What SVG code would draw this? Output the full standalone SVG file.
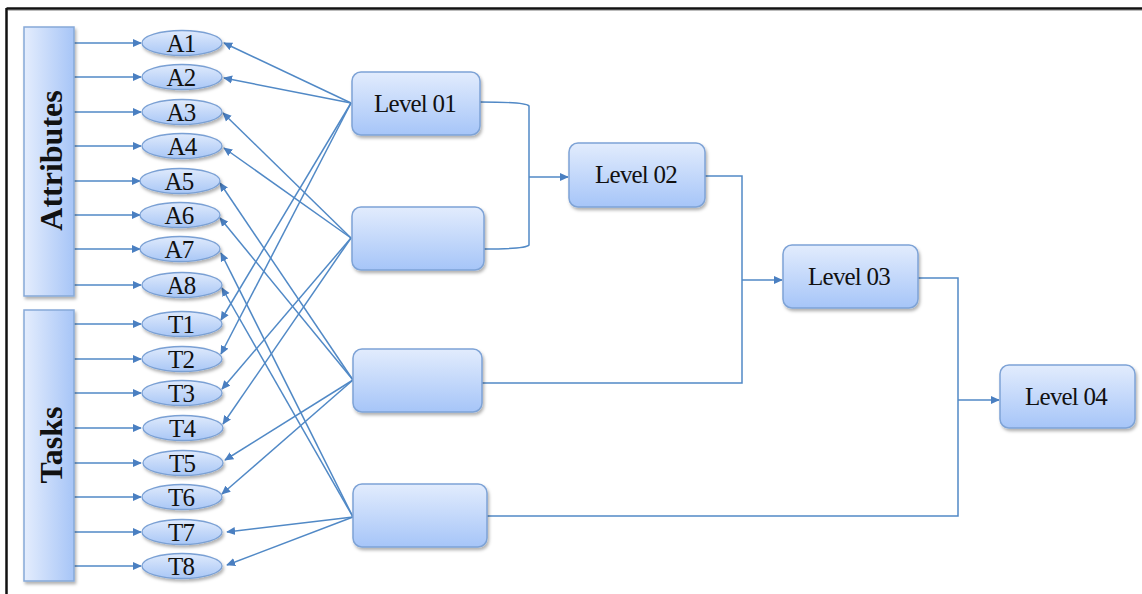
<svg xmlns="http://www.w3.org/2000/svg" width="1142" height="594" viewBox="0 0 1142 594">
  <defs>
    <linearGradient id="boxGrad" x1="0" y1="0" x2="0" y2="1">
      <stop offset="0" stop-color="#e2ecfd"/>
      <stop offset="1" stop-color="#a6c5f8"/>
    </linearGradient>
    <linearGradient id="ellGrad" x1="0" y1="0" x2="0" y2="1">
      <stop offset="0" stop-color="#dfeafc"/>
      <stop offset="1" stop-color="#a9c7f6"/>
    </linearGradient>
    <linearGradient id="barGrad" x1="0" y1="0" x2="1" y2="0">
      <stop offset="0" stop-color="#e4edfd"/>
      <stop offset="1" stop-color="#a7c5f7"/>
    </linearGradient>
    <filter id="shadow" x="-10%" y="-10%" width="125%" height="135%">
      <feDropShadow dx="1.5" dy="2.5" stdDeviation="1.6" flood-color="#000" flood-opacity="0.3"/>
    </filter>
    <marker id="arrow" viewBox="0 0 10 10" refX="9" refY="5" markerWidth="9" markerHeight="9" markerUnits="userSpaceOnUse" orient="auto">
      <path d="M0,0.5 L10,5 L0,9.5 Z" fill="#4a7fc1"/>
    </marker>
  </defs>
  <style>
    .bar { fill: url(#barGrad); stroke: #86a9d8; stroke-width: 1.5; filter: url(#shadow); }
    .box { fill: url(#boxGrad); stroke: #7ea3d6; stroke-width: 1.5; filter: url(#shadow); }
    .ell { fill: url(#ellGrad); stroke: #7aa0d4; stroke-width: 1.3; filter: url(#shadow); }
    .lbl { font-family: "Liberation Serif", "Times New Roman", serif; font-size: 25px; letter-spacing: -0.8px; fill: #111; text-anchor: middle; }
    .ttl { font-family: "Liberation Serif", "Times New Roman", serif; font-size: 32px; font-weight: bold; fill: #111; text-anchor: middle; }
    .conn { fill: none; stroke: #5189c6; stroke-width: 1.5; }
    .arr { marker-end: url(#arrow); }
  </style>

  <rect width="1142" height="594" fill="#fff"/>

  <!-- frame -->
  <line x1="6.5" y1="8.5" x2="1142" y2="8.5" stroke="#111" stroke-width="2.5"/>
  <line x1="6.5" y1="8" x2="6.5" y2="594" stroke="#111" stroke-width="2.5"/>
  <line x1="8" y1="10.5" x2="1142" y2="10.5" stroke="#bbb" stroke-width="1"/>

  <!-- connectors -->
  <g id="connectors" class="conn">
    <!-- category bars to items -->
    <g class="arr">
      <line x1="74" y1="43" x2="141" y2="43"/>
      <line x1="74" y1="77" x2="141" y2="77"/>
      <line x1="74" y1="112" x2="141" y2="112"/>
      <line x1="74" y1="146" x2="141" y2="146"/>
      <line x1="74" y1="181" x2="140" y2="181"/>
      <line x1="74" y1="215" x2="140" y2="215"/>
      <line x1="73" y1="249" x2="140" y2="249"/>
      <line x1="74" y1="285" x2="141" y2="285"/>
      <line x1="74" y1="324" x2="141" y2="324"/>
      <line x1="74" y1="359" x2="141" y2="359"/>
      <line x1="74" y1="393" x2="141" y2="393"/>
      <line x1="74" y1="428" x2="141" y2="428"/>
      <line x1="74" y1="463" x2="141" y2="463"/>
      <line x1="74" y1="497" x2="141" y2="497"/>
      <line x1="74" y1="532" x2="141" y2="532"/>
      <line x1="74" y1="566" x2="141" y2="566"/>
    </g>
    <!-- Level 01 to items -->
    <g class="arr">
      <line x1="351" y1="103" x2="224" y2="43"/>
      <line x1="351" y1="103" x2="224" y2="78"/>
      <line x1="351" y1="103" x2="221" y2="320"/>
      <line x1="351" y1="103" x2="221" y2="354"/>
    </g>
    <!-- second box to items -->
    <g class="arr">
      <line x1="351" y1="238" x2="223" y2="113"/>
      <line x1="351" y1="238" x2="224" y2="148"/>
      <line x1="351" y1="238" x2="222" y2="389"/>
      <line x1="351" y1="238" x2="223" y2="424"/>
    </g>
    <!-- third box to items -->
    <g class="arr">
      <line x1="353" y1="380" x2="220" y2="183"/>
      <line x1="353" y1="380" x2="220" y2="218"/>
      <line x1="353" y1="380" x2="225" y2="460"/>
      <line x1="353" y1="380" x2="222" y2="494"/>
    </g>
    <!-- fourth box to items -->
    <g class="arr">
      <line x1="353" y1="517" x2="221" y2="253"/>
      <line x1="353" y1="517" x2="222" y2="288"/>
      <line x1="353" y1="517" x2="227" y2="532"/>
      <line x1="353" y1="517" x2="227" y2="565"/>
    </g>
    <!-- level merges -->
    <path d="M480,102 Q526,102 529,106 L529,245 Q526,249 484,249"/>
    <line class="arr" x1="529" y1="177" x2="568" y2="177"/>
    <path d="M705,176 L742,176 L742,383 L482,383"/>
    <line class="arr" x1="742" y1="280" x2="782" y2="280"/>
    <path d="M918,278 L958,278 L958,516 L487,516"/>
    <line class="arr" x1="958" y1="400" x2="999" y2="400"/>
  </g>

  <!-- category bars -->
  <g id="attributes">
    <rect class="bar" x="24" y="27" width="50" height="269"/>
    <text class="ttl" transform="translate(62,160.5) rotate(-90)">Attributes</text>
  </g>
  <g id="tasks">
    <rect class="bar" x="24" y="310" width="50" height="271"/>
    <text class="ttl" transform="translate(62,445) rotate(-90)">Tasks</text>
  </g>

  <!-- attribute items -->
  <g id="A1"><ellipse class="ell" cx="182" cy="43" rx="40" ry="12.5"/><text class="lbl" x="181" y="52">A1</text></g>
  <g id="A2"><ellipse class="ell" cx="182" cy="77" rx="40" ry="12.5"/><text class="lbl" x="181" y="86">A2</text></g>
  <g id="A3"><ellipse class="ell" cx="182" cy="112" rx="40" ry="12.5"/><text class="lbl" x="181" y="121">A3</text></g>
  <g id="A4"><ellipse class="ell" cx="182" cy="146" rx="40" ry="12.5"/><text class="lbl" x="182" y="155">A4</text></g>
  <g id="A5"><ellipse class="ell" cx="180" cy="181" rx="40" ry="12.5"/><text class="lbl" x="179" y="190">A5</text></g>
  <g id="A6"><ellipse class="ell" cx="180" cy="215" rx="40" ry="12.5"/><text class="lbl" x="179" y="224">A6</text></g>
  <g id="A7"><ellipse class="ell" cx="180" cy="249" rx="40" ry="12.5"/><text class="lbl" x="179" y="258">A7</text></g>
  <g id="A8"><ellipse class="ell" cx="182" cy="285" rx="40" ry="12.5"/><text class="lbl" x="181" y="294">A8</text></g>

  <!-- task items -->
  <g id="T1"><ellipse class="ell" cx="182" cy="324" rx="40" ry="12.5"/><text class="lbl" x="181" y="333">T1</text></g>
  <g id="T2"><ellipse class="ell" cx="182" cy="359" rx="40" ry="12.5"/><text class="lbl" x="181" y="368">T2</text></g>
  <g id="T3"><ellipse class="ell" cx="182" cy="393" rx="40" ry="12.5"/><text class="lbl" x="181" y="402">T3</text></g>
  <g id="T4"><ellipse class="ell" cx="183" cy="428" rx="40" ry="12.5"/><text class="lbl" x="182" y="437">T4</text></g>
  <g id="T5"><ellipse class="ell" cx="183" cy="463" rx="40" ry="12.5"/><text class="lbl" x="182" y="472">T5</text></g>
  <g id="T6"><ellipse class="ell" cx="182" cy="497" rx="40" ry="12.5"/><text class="lbl" x="181" y="506">T6</text></g>
  <g id="T7"><ellipse class="ell" cx="182" cy="532" rx="40" ry="12.5"/><text class="lbl" x="181" y="541">T7</text></g>
  <g id="T8"><ellipse class="ell" cx="182" cy="566" rx="40" ry="12.5"/><text class="lbl" x="181" y="575">T8</text></g>

  <!-- level boxes -->
  <g id="level01"><rect class="box" x="352" y="72" width="128" height="63" rx="9"/><text class="lbl" x="415" y="112">Level 01</text></g>
  <g id="level01b"><rect class="box" x="352" y="207" width="132" height="63" rx="9"/></g>
  <g id="level01c"><rect class="box" x="353" y="349" width="129" height="63" rx="9"/></g>
  <g id="level01d"><rect class="box" x="353" y="484" width="134" height="63" rx="9"/></g>
  <g id="level02"><rect class="box" x="569" y="143" width="136" height="64" rx="9"/><text class="lbl" x="636" y="183">Level 02</text></g>
  <g id="level03"><rect class="box" x="783" y="245" width="135" height="63" rx="9"/><text class="lbl" x="849" y="285">Level 03</text></g>
  <g id="level04"><rect class="box" x="1000" y="365" width="135" height="63" rx="9"/><text class="lbl" x="1066" y="405">Level 04</text></g>
</svg>
